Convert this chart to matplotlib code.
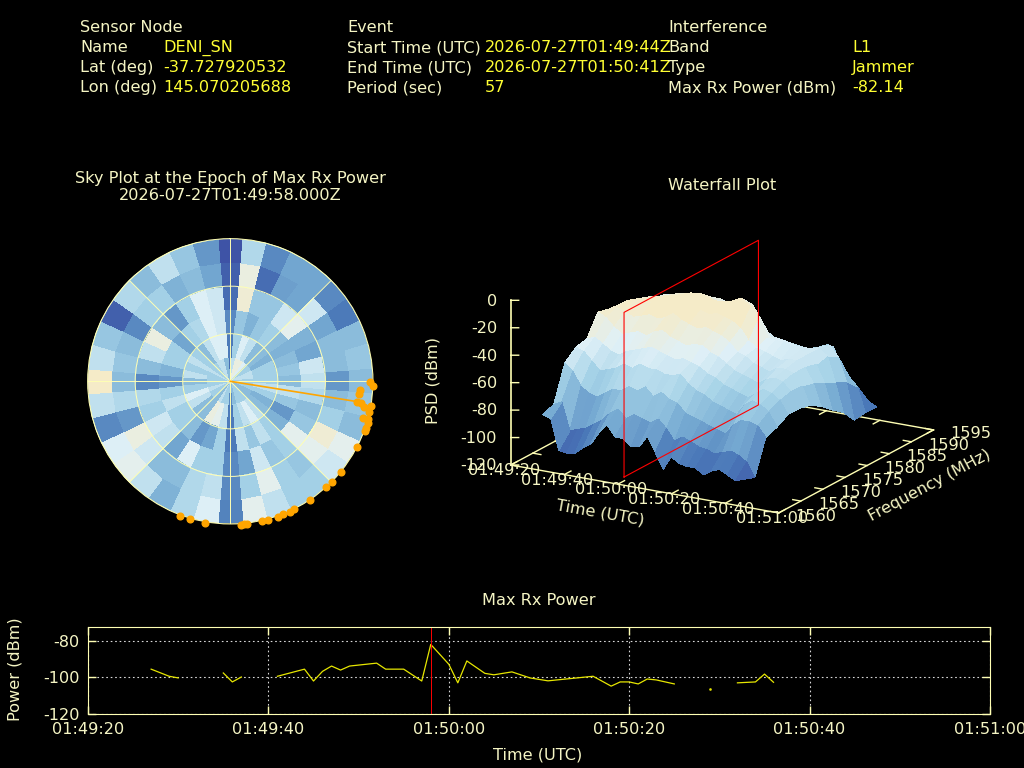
import numpy as np
import matplotlib
matplotlib.use('Agg')
import matplotlib.pyplot as plt
from matplotlib.colors import LinearSegmentedColormap
from mpl_toolkits.mplot3d import proj3d

# header
sensor_rows = [('Sensor Node', ''), ('Name', 'DENI_SN'), ('Lat (deg)', '-37.727920532'), ('Lon (deg)', '145.070205688')]
event_rows = [('Event', ''), ('Start Time (UTC)', '2026-07-27T01:49:44Z'), ('End Time (UTC)', '2026-07-27T01:50:41Z'), ('Period (sec)', '57')]
interf_rows = [('Interference', ''), ('Band', 'L1'), ('Type', 'Jammer'), ('Max Rx Power (dBm)', '-82.14')]

# bottom plot, seconds after 01:49:20, nan = gap
power_t = [7, 9, 10, 11, 15, 16, 17, 18, 21, 24, 25, 26, 27, 28, 29, 32, 33, 35, 37, 38, 40, 41, 42, 44, 45, 47, 49, 51,
           56, 58, 59, 60, 61, 62, 63, 65, 66, 72, 74, 75, 76]
power_db = [-95.7, -99.6, -100.5, np.nan, -97.8, -102.7, -100.0, np.nan, -99.6, -95.7, -102.2, -96.9, -94.0, -96.2, -94.0,
            -92.4, -95.7, -95.7, -102.2, -82.14, -93.0, -103.2, -91.2, -98.0, -98.8, -97.2, -100.5, -102.1,
            -99.6, -105.0, -102.7, -102.7, -103.8, -101.1, -101.6, -103.8, np.nan, -103.2, -102.7, -98.4, -102.9]
single_t = [69]
single_db = [-106.5]
max_t = 38
time_ticks = [0, 20, 40, 60, 80, 100]
time_labels = ['01:49:20', '01:49:40', '01:50:00', '01:50:20', '01:50:40', '01:51:00']

# sky plot, sectors every 10 deg starting at north, rings from the centre out
sky_levels = [
    [2, 7, 9, 9, 8, 6, 6, 7, 7, 6, 6, 6, 5, 5, 6, 6, 6, 5, 3, 6, 6, 7, 5, 6, 6, 7, 6, 6, 6, 6, 7, 6, 6, 7, 7, 5],
    [2.5, 6, 8, 7, 5, 5, 4.5, 6, 6, 6, 7, 6, 4.5, 5, 7, 8, 7, 6, 2.5, 7, 8.5, 9, 5, 5, 7, 8, 6, 5, 7, 6, 7, 6, 5, 7, 8, 8],
    [3, 5.5, 4.5, 5.5, 6, 5, 4.5, 5, 5.5, 5, 7, 5.5, 3.5, 4.5, 6, 7, 5.5, 7, 2.5, 6, 4, 3.5, 5, 6, 6, 7, 6, 3.5, 4.5, 6, 6, 4, 6, 6.5, 8, 7.5],
    [2, 9.5, 5.5, 5.5, 7.5, 8.5, 4.5, 4, 7.5, 7, 6.5, 5, 5.5, 8.5, 6, 5.5, 7.5, 4, 3, 6, 6, 8, 4, 7, 7.5, 6, 6.5, 3, 5, 7, 9, 5, 3.5, 6, 8, 7.5],
    [1.5, 9, 2, 3.8, 4, 7.5, 4, 5, 5, 3.5, 5, 6, 9.5, 8.5, 5.5, 6, 8.5, 6, 3, 7, 6.5, 5, 5, 7.5, 9, 3.5, 6.5, 5, 5.5, 5, 3, 6, 6, 4.5, 5, 4],
    [1, 6.5, 3, 4, 4, 3, 2.5, 5, 5.5, 5, 5.5, 5, 8.5, 7.5, 6, 6, 7, 8.5, 2.8, 8, 6.5, 4.5, 7, 8.5, 8, 3, 7, 10, 7, 5.5, 1.5, 6.5, 5, 7, 5.5, 3.5],
]
sky_ring_edges = [0, 15, 30, 45, 60, 75, 90]
sky_az_edges = np.arange(-5, 360, 10)

# satellites
sat_az = [90.4, 91.9, 93.8, 95.6, 99.1, 99.6, 100.7, 99.9, 102.6, 105.5, 105.3, 107.0, 109.1, 110.1, 117.5, 129.3,
          134.7, 137.8, 146.1, 153.5, 155.4, 158.3, 160.6, 164.7, 167.1, 173.2, 174.5, 175.7, 190.0, 196.2, 200.4]
sat_el = [1.7, 0.2, 8.0, 8.2, 9.3, 6.4, 4.0, -0.4, 0.2, 2.9, 0.1, -0.6, -0.6, -0.5, -0.3, -0.5,
          -0.5, -0.2, -0.4, 0.0, -0.4, -0.3, -1.0, -0.6, -0.6, -0.6, -0.6, -0.6, -0.8, -0.4, -0.6]
max_az = 99.1
max_el = 9.3

# waterfall
wf_time = [7, 10, 13, 16, 19, 22, 25, 28, 31, 34, 37, 40, 43, 46, 49, 52, 55, 58, 61, 64, 67, 70, 73, 76, 79, 82]
wf_freq = [1563, 1565.5, 1568, 1570.5, 1573, 1575.5, 1578, 1580.5, 1583, 1585.5, 1588, 1590.5, 1593]
wf_psd = [
    [-86, -83, -57, -50, -48, -33, -35, -36, -38, -41, -45, -46, -50],
    [-88, -80, -62, -52, -46, -36, -33, -32, -35, -38, -42, -46, -52],
    [-110, -100, -72, -58, -50, -42, -35, -30, -34, -37, -41, -44, -50],
    [-111, -98, -76, -64, -54, -46, -38, -32, -32, -35, -38, -42, -52],
    [-110, -96, -78, -62, -56, -44, -36, -30, -31, -34, -37, -42, -50],
    [-105, -92, -74, -60, -52, -42, -34, -28, -29, -32, -36, -42, -52],
    [-101, -88, -70, -56, -50, -44, -36, -30, -27, -30, -36, -42, -50],
    [-92, -82, -70, -58, -48, -40, -34, -28, -25, -29, -36, -42, -50],
    [-85, -78, -66, -54, -46, -38, -30, -26, -24, -31, -43, -46, -52],
    [-93, -84, -68, -56, -48, -42, -34, -28, -25, -34, -40, -46, -52],
    [-93, -80, -64, -56, -50, -44, -36, -30, -26, -35, -37, -44, -56],
    [-98, -82, -70, -58, -52, -46, -38, -32, -27, -31, -33, -42, -68],
    [-97, -84, -66, -58, -50, -44, -36, -30, -28, -28, -37, -52, -70],
    [-88, -80, -70, -56, -52, -44, -38, -32, -26, -31, -43, -62, -70],
    [-99, -86, -72, -62, -54, -48, -40, -34, -25, -35, -58, -66, -72],
    [-110, -94, -78, -66, -58, -50, -44, -38, -26, -46, -57, -66, -73],
    [-100, -90, -80, -68, -60, -54, -50, -46, -33, -52, -58, -66, -74],
    [-104, -92, -82, -72, -64, -58, -52, -50, -47, -52, -59, -68, -73],
    [-105, -95, -84, -74, -66, -60, -56, -52, -48, -53, -60, -67, -70],
    [-105, -96, -86, -76, -68, -62, -58, -54, -48, -55, -61, -65, -67],
    [-109, -98, -88, -78, -70, -64, -60, -56, -50, -55, -61, -62, -75],
    [-105, -96, -80, -70, -66, -60, -56, -54, -52, -55, -58, -62, -85],
    [-103, -94, -76, -66, -62, -58, -56, -54, -54, -54, -56, -76, -90],
    [-106, -96, -76, -68, -64, -60, -58, -58, -60, -58, -63, -82, -98],
    [-109, -100, -78, -72, -68, -66, -66, -68, -72, -76, -80, -88, -103],
    [-107, -110, -85, -82, -77, -77, -79, -84, -91, -97, -107, -106, -106],
]
wf_zticks = [0, -20, -40, -60, -80, -100, -120]
wf_fticks = [1560, 1565, 1570, 1575, 1580, 1585, 1590, 1595]
plane_freq = [1562.6, 1593]

W, H = 1024, 768
beige = '#f5f5c4'
yellow = '#ffff33'
axis_col = '#ffffb4'
blues = LinearSegmentedColormap.from_list('sky', ['#3a47a0', '#4a78b8', '#7aaed4', '#a8d4e8', '#dff0f7', '#f5ebc8'])

plt.rcParams['font.family'] = 'DejaVu Sans'
plt.rcParams['font.size'] = 11.6
plt.rcParams['axes.unicode_minus'] = False
fig = plt.figure(figsize=(W / 100, H / 100), dpi=100, facecolor='black')


def put(x, y, s, color=beige, ha='left', rot=0):
    fig.text(x / W, 1 - (y + 0.8) / H, s, color=color, ha=ha, va='center', rotation=rot, rotation_mode='anchor')


for x_l, x_v, rows in [(80, 163, sensor_rows), (347, 485, event_rows), (668, 852, interf_rows)]:
    for i, (label, val) in enumerate(rows):
        put(x_l, 27 + 20 * i, label)
        put(x_v, 27 + 20 * i, val, color=yellow)

put(230, 178, 'Sky Plot at the Epoch of Max Rx Power', ha='center')
put(230, 195, '2026-07-27T01:49:58.000Z', ha='center')
put(722, 185, 'Waterfall Plot', ha='center')
put(539, 600, 'Max Rx Power', ha='center')

# sky plot
R = 142.7
sky = fig.add_axes([(230.3 - R) / W, 1 - (381.3 + R) / H, 2 * R / W, 2 * R / H], projection='polar')
sky.set_facecolor('black')
sky.set_theta_zero_location('N')
sky.set_theta_direction(-1)
sky.pcolormesh(np.radians(sky_az_edges), sky_ring_edges, np.array(sky_levels), cmap=blues, vmin=0.5, vmax=10)
sky.set_rlim(0, 90)
sky.set_rticks([30, 60, 90])
sky.set_thetagrids(range(0, 360, 45))
sky.set_xticklabels([])
sky.set_yticklabels([])
sky.grid(True, color=axis_col, lw=0.7, ls='-')
sky.spines['polar'].set_color(axis_col)
sky.spines['polar'].set_linewidth(0.7)
sky.plot(np.radians([0, max_az]), [0, 90 - max_el], color='orange', lw=1.2, zorder=4)
sky.plot(np.radians(sat_az), 90 - np.array(sat_el), ls='', marker='o', ms=4.8, color='orange', clip_on=False, zorder=5)

# waterfall, gnuplot view is about 72 deg rot x, 60 deg rot z
wf = fig.add_axes([200 / W, 1 - 700 / H, 700 / W, 700 / H], projection='3d', computed_zorder=False, proj_type='ortho')
wf.set_xlim(0, 100, view_margin=0)
wf.set_ylim(1560, 1595, view_margin=0)
wf.set_zlim(-120, 0, view_margin=0)
wf.view_init(elev=18.04, azim=-60)
wf.set_box_aspect((310, 310, 173.5))
wf.set_axis_off()
wf.patch.set_alpha(0)


def to_px(ax, t, f, z):
    x, y, _ = proj3d.proj_transform(t, f, z, ax.get_proj())
    return ax.transData.transform((x, y))


p0 = to_px(wf, 0, 1560, -120)
p1 = to_px(wf, 100, 1560, -120)
wf.set_box_aspect((310, 310, 173.5), zoom=np.hypot(268, 48) / np.hypot(*(p1 - p0)))
p0 = to_px(wf, 0, 1560, -120)
box = wf.get_position()
wf.set_position([box.x0 + (510.7 - p0[0]) / W, box.y0 + (H - 465 - p0[1]) / H, box.width, box.height])

T, F = np.meshgrid(wf_time, wf_freq, indexing='ij')
Z = np.array(wf_psd, dtype=float)
cells = (Z[:-1, :-1] + Z[1:, :-1] + Z[:-1, 1:] + Z[1:, 1:]) / 4
wf_col = blues(np.clip((cells + 118) / 86, 0, 1))

# box edges first, surface hides them
edge = dict(color=axis_col, lw=1, zorder=1)
wf.plot([0, 100], [1560, 1560], [-120, -120], **edge)
wf.plot([0, 100], [1595, 1595], [-120, -120], **edge)
wf.plot([0, 0], [1560, 1595], [-120, -120], **edge)
wf.plot([100, 100], [1560, 1595], [-120, -120], **edge)
wf.plot([0, 0], [1560, 1560], [-120, 0], color=axis_col, lw=1.2, zorder=1)
for z in wf_zticks:
    wf.plot([0, 2.24], [1560, 1560.45], [z, z], **edge)
    p = to_px(wf, 0, 1560, z)
    put(497, H - p[1], str(z), ha='right')
for t, lab in zip(time_ticks, time_labels):
    wf.plot([t, t], [1560, 1561.5], [-120, -120], **edge)
    wf.plot([t, t], [1595, 1593.5], [-120, -120], **edge)
    p = to_px(wf, t, 1560, -120)
    put(p[0] - 7, H - p[1] + 5, lab, ha='center')
for f in wf_fticks:
    wf.plot([100, 97], [f, f], [-120, -120], **edge)
    wf.plot([0, 3], [f, f], [-120, -120], **edge)
    p = to_px(wf, 100, f, -120)
    put(p[0] + 37.5, H - p[1] + 2.5, str(f), ha='center')

wf.plot_surface(T, F, Z, facecolors=wf_col, rstride=1, cstride=1, shade=False, linewidth=0, antialiased=False, zorder=2)

# red plane at the max power epoch
wf.plot([max_t] * 5, [plane_freq[0], plane_freq[1], plane_freq[1], plane_freq[0], plane_freq[0]],
        [-120, -120, 0, 0, -120], color='red', lw=0.8, zorder=3)

put(433, 380, 'PSD (dBm)', ha='center', rot=90)
put(600, 512, 'Time (UTC)', ha='center', rot=-10)
put(930, 485, 'Frequency (MHz)', ha='center', rot=28)

# bottom plot
ax = fig.add_axes([88 / W, 1 - 713.5 / H, 902 / W, 86.5 / H])
ax.set_facecolor('black')
ax.plot(power_t, power_db, color='#e6e600', lw=0.9)
ax.plot(single_t, single_db, ls='', marker='s', ms=0.8, color='#e6e600')
ax.axvline(max_t, color='red', lw=0.7)
ax.set_xlim(0, 100)
ax.set_ylim(-120, -72.6)
ax.set_xticks(time_ticks, time_labels)
ax.set_yticks([-80, -100, -120])
ax.grid(True, color='#d8d8d8', ls=(0, (1.5, 2.5)), lw=0.8)
ax.tick_params(direction='in', length=6, top=True, right=True, color=axis_col, labelcolor=beige, pad=6, width=1)
for sp in ax.spines.values():
    sp.set_color(axis_col)
put(538, 754, 'Time (UTC)', ha='center')
put(15, 668, 'Power (dBm)', ha='center', rot=90)

fig.savefig('out.png', dpi=100, facecolor='black')
